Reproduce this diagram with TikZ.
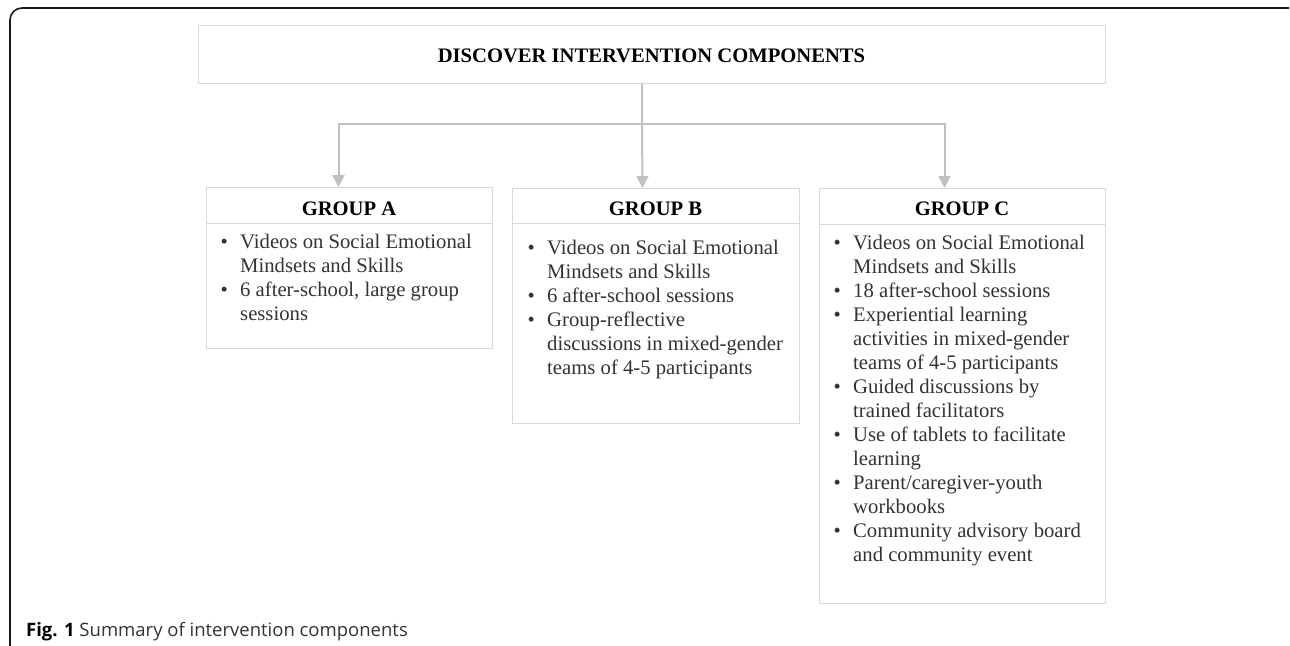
\documentclass[tikz,border=0pt]{standalone}
\usepackage{fontspec}
\setmainfont{Liberation Serif}
\newfontfamily\capfont{Open Sans}
\usetikzlibrary{arrows.meta}
\definecolor{boxline}{HTML}{D9D9D9}
\definecolor{arrowgray}{HTML}{C0C0C0}
\definecolor{bodytext}{HTML}{333333}
\definecolor{frameline}{HTML}{1A1A1A}
\newcommand{\bul}{\makebox[19.5pt][l]{\textbullet}}
\begin{document}
\begin{tikzpicture}[x=1pt,y=-1pt,
  box/.style={draw=boxline,line width=1pt,inner sep=0pt,anchor=north west},
  head/.style={font=\fontsize{20.6}{24}\selectfont\bfseries,text=black,inner sep=0pt,anchor=base},
  itemtext/.style={font=\fontsize{20.7}{24}\selectfont,text=bodytext,inner sep=0pt,anchor=base west},
  divider/.style={draw=boxline,line width=1pt},
  arrowline/.style={draw=arrowgray,line width=2pt,-{Triangle[length=12pt,width=12pt]}},
  plainline/.style={draw=arrowgray,line width=2pt},
  frame/.style={draw=frameline,line width=1.6pt,rounded corners=12pt}]
\useasboundingbox (0,0) rectangle (1290,645);
% outer frame
\draw[frame] (10,646) -- (10,8) -- (1289,8);
% top box
\node[box,minimum width=907pt,minimum height=58pt] (top) at (198,25) {};
\node[head] (toptitle) at (651.5,62) {DISCOVER INTERVENTION COMPONENTS};
% group boxes
\node[box,minimum width=286pt,minimum height=161pt] (ga) at (206,187) {};
\node[box,minimum width=287pt,minimum height=235pt] (gb) at (512,188) {};
\node[box,minimum width=286pt,minimum height=415pt] (gc) at (819,188) {};
% dividers
\coordinate (da) at (0,223);
\coordinate (db) at (0,223);
\coordinate (dc) at (0,224);
\draw[divider] (ga.west |- da) -- (ga.east |- da);
\draw[divider] (gb.west |- db) -- (gb.east |- db);
\draw[divider] (gc.west |- dc) -- (gc.east |- dc);
% headers
\node[head] (ha) at (349,215) {GROUP A};
\node[head] (hb) at (655.5,215) {GROUP B};
\node[head] (hc) at (962,215.5) {GROUP C};
% items
\node[itemtext] (ta) at (220.5,248) {\begin{tabular}[t]{@{}l@{}l@{}}
\bul & Videos on Social Emotional\\
 & Mindsets and Skills\\
\bul & 6 after-school, large group\\
 & sessions
\end{tabular}};
\node[itemtext] (tb) at (527.5,254.5) {\begin{tabular}[t]{@{}l@{}l@{}}
\bul & Videos on Social Emotional\\
 & Mindsets and Skills\\
\bul & 6 after-school sessions\\
\bul & Group-reflective\\
 & discussions in mixed-gender\\
 & teams of 4-5 participants
\end{tabular}};
\node[itemtext] (tc) at (833.5,249.5) {\begin{tabular}[t]{@{}l@{}l@{}}
\bul & Videos on Social Emotional\\
 & Mindsets and Skills\\
\bul & 18 after-school sessions\\
\bul & Experiential learning\\
 & activities in mixed-gender\\
 & teams of 4-5 participants\\
\bul & Guided discussions by\\
 & trained facilitators\\
\bul & Use of tablets to facilitate\\
 & learning\\
\bul & Parent/caregiver-youth\\
 & workbooks\\
\bul & Community advisory board\\
 & and community event
\end{tabular}};
% connectors
\coordinate (hub) at (642,124);
\draw[plainline] (top.south -| hub) -- (hub);
\draw[arrowline] (hub) -| ([xshift=-11pt]ga.north);
\draw[arrowline] (hub) -- ([xshift=-13.5pt]gb.north);
\draw[arrowline] (hub) -| ([xshift=-18pt]gc.north);
% caption
\node[anchor=base west,inner sep=0pt,font=\capfont\fontsize{18.5}{22}\selectfont,text=bodytext] (cap) at (26,636) {\textcolor{black}{\textbf{Fig. 1}} Summary of intervention components};
\end{tikzpicture}
\end{document}
